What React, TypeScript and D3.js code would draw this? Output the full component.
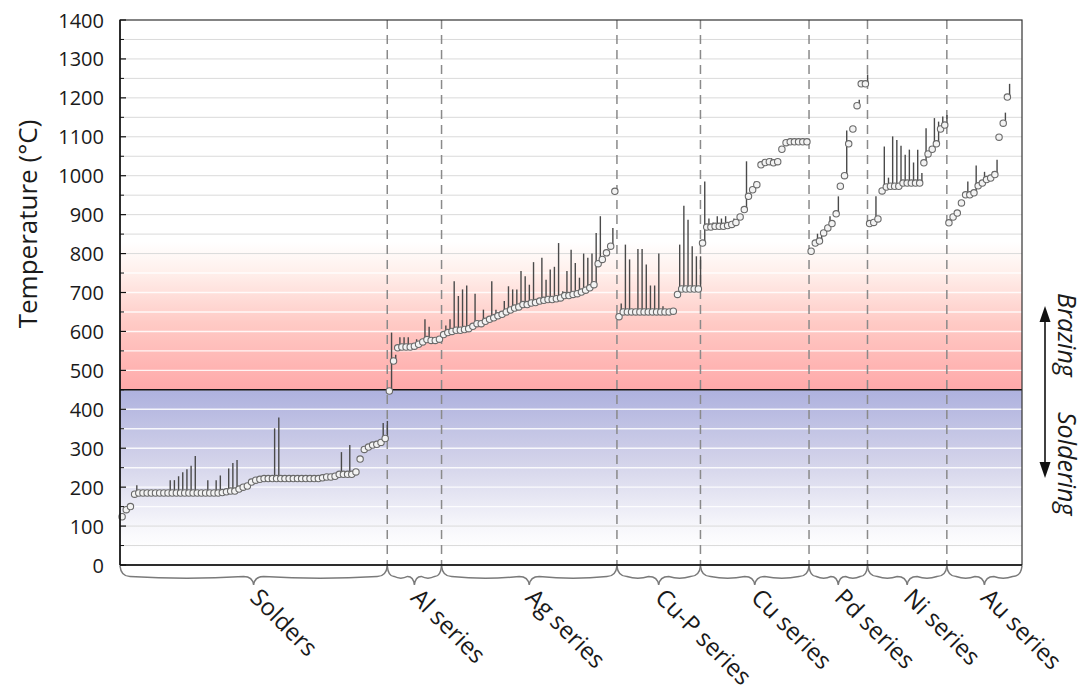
import React from "react";
import * as d3 from "d3";

// Each alloy is [solidus, liquidus] in °C; equal values mean a single melting point.
type Alloy = [number, number];

const solders: Alloy[] = [
  [124, 124], [142, 142], [150, 150], [182, 205],
  [185, 185], [185, 185], [185, 185], [185, 185], [185, 185], [185, 185], [185, 185],
  [185, 218], [185, 218], [185, 228], [185, 238], [185, 246], [185, 255], [185, 280],
  [185, 185], [185, 185], [185, 218], [185, 185], [185, 218], [185, 230], [186, 186],
  [188, 248], [190, 262], [190, 270],
  [195, 195], [200, 200], [203, 203], [213, 213], [218, 218], [220, 220],
  [222, 222], [222, 222], [222, 351], [222, 379], [222, 222], [222, 222], [222, 222],
  [222, 222], [222, 222], [222, 222], [222, 222], [222, 222], [222, 222], [222, 222],
  [224, 224], [226, 226], [226, 226], [228, 228], [233, 290], [233, 233], [233, 308],
  [233, 233], [239, 239],
  [272, 272], [297, 297], [303, 303], [308, 308], [310, 310], [315, 365], [325, 370],
];

const alSeries: Alloy[] = [
  [447, 597], [524, 540], [558, 585], [560, 585], [560, 585], [560, 560], [562, 580],
  [567, 567], [573, 631], [579, 612], [577, 577], [577, 577], [580, 580],
];

const agSeries: Alloy[] = [
  [592, 615], [597, 631], [600, 729], [603, 691], [603, 708], [605, 718], [607, 607],
  [613, 697], [620, 620], [620, 656], [626, 626], [631, 729], [635, 656], [640, 640],
  [644, 678], [650, 716], [655, 708], [660, 708], [663, 755], [669, 742], [669, 720],
  [673, 778], [674, 674], [678, 789], [680, 733], [682, 759], [682, 766], [684, 827],
  [686, 703], [692, 755], [692, 810], [695, 776], [697, 738], [701, 800], [706, 789],
  [712, 800], [720, 853], [774, 896], [785, 785], [802, 802], [819, 866], [960, 960],
];

const cuPSeries: Alloy[] = [
  [638, 672], [650, 823], [650, 785], [650, 650], [650, 812], [650, 812], [650, 772],
  [650, 718], [650, 718], [650, 800], [650, 665], [650, 650], [650, 650], [652, 652],
  [695, 823], [709, 923], [709, 887], [709, 819], [709, 793], [709, 793],
];

const cuSeries: Alloy[] = [
  [827, 985], [868, 890], [868, 880], [870, 896], [870, 890], [870, 896], [872, 880],
  [875, 890], [880, 896], [894, 894], [913, 1037], [947, 947], [964, 985], [977, 977],
  [1028, 1039], [1034, 1034], [1036, 1045], [1033, 1033], [1036, 1036], [1068, 1068],
  [1085, 1085], [1087, 1087], [1087, 1087], [1087, 1087], [1087, 1087], [1087, 1095],
];

const pdSeries: Alloy[] = [
  [806, 806], [827, 851], [832, 851], [853, 853], [866, 896], [877, 877], [902, 947],
  [973, 973], [1000, 1116], [1082, 1082], [1120, 1120], [1180, 1195], [1236, 1236],
  [1236, 1260],
];

const niSeries: Alloy[] = [
  [877, 877], [880, 947], [889, 889], [961, 1075], [971, 995], [973, 1101], [973, 1092],
  [973, 1077], [981, 1054], [981, 1067], [981, 1034], [981, 1067], [981, 1007],
  [1033, 1122], [1056, 1056], [1068, 1148], [1082, 1139], [1120, 1152], [1130, 1156],
];

const auSeries: Alloy[] = [
  [879, 879], [894, 894], [904, 904], [930, 930], [951, 985], [951, 951], [956, 1026],
  [974, 974], [981, 1010], [990, 990], [994, 1011], [1003, 1041], [1099, 1099],
  [1135, 1162], [1202, 1236],
];

const groupNames = [
  "Solders", "Al series", "Ag series", "Cu-P series",
  "Cu series", "Pd series", "Ni series", "Au series",
];
const groupAlloys = [
  solders, alSeries, agSeries, cuPSeries, cuSeries, pdSeries, niSeries, auSeries,
];

const yTickValues = [0, 100, 200, 300, 400, 500, 600, 700, 800, 900, 1000, 1100, 1200, 1300, 1400];
const gridValues = d3.range(50, 1400, 50);
const solderingLimit = 450;

// empty slots after the last group so its points sit clear of the frame
const trailingSlots = 3;

const W = 1086;
const H = 691;
const LEFT = 120;
const RIGHT = 1022;
const TOP = 20;
const BOTTOM = 565;

function bracePath(x0: number, x1: number, top: number, depth: number): string {
  const mid = (x0 + x1) / 2;
  const sh = top + depth * 0.55;
  const q = Math.min(10, (x1 - x0) / 8);
  const sag = depth * 0.18;
  return [
    `M${x0},${top}`,
    `Q${x0 + 1},${sh} ${x0 + q},${sh}`,
    `Q${(x0 + q + mid - q) / 2},${sh + sag} ${mid - q},${sh}`,
    `Q${mid - 1},${sh} ${mid},${top + depth}`,
    `Q${mid + 1},${sh} ${mid + q},${sh}`,
    `Q${(mid + q + x1 - q) / 2},${sh + sag} ${x1 - q},${sh}`,
    `Q${x1 - 1},${sh} ${x1},${top}`,
  ].join(" ");
}

export default function App() {
  const y = d3.scaleLinear().domain([0, 1400]).range([BOTTOM, TOP]);
  const nAlloys = d3.sum(groupAlloys, (g) => g.length);
  const x = d3.scaleLinear().domain([0, nAlloys + trailingSlots]).range([LEFT, RIGHT]);

  let cursor = 0;
  const groups = groupNames.map((name, i) => {
    const alloys = groupAlloys[i];
    const start = cursor;
    cursor += alloys.length;
    const end = i === groupNames.length - 1 ? nAlloys + trailingSlots : cursor;
    return { name, alloys, start, end };
  });

  const points = groups.flatMap((g) =>
    g.alloys.map((a, j) => ({ idx: g.start + j + 0.5, sol: a[0], liq: a[1] }))
  );

  const r = 3.2;
  const font = "'Open Sans', 'Noto Sans', sans-serif";

  return (
    <svg
      width={W}
      height={H}
      style={{ position: "absolute", left: 0, top: 0, background: "#fff" }}
      fontFamily={font}
    >
      <defs>
        <linearGradient id="brazeGrad" gradientUnits="userSpaceOnUse" x1={0} x2={0} y1={y(solderingLimit)} y2={y(830)}>
          <stop offset="0" stopColor="#ffa9a9" />
          <stop offset="0.45" stopColor="#ffcac5" />
          <stop offset="0.8" stopColor="#fff0ec" />
          <stop offset="1" stopColor="#ffffff" />
        </linearGradient>
        <linearGradient id="solderGrad" gradientUnits="userSpaceOnUse" x1={0} x2={0} y1={y(solderingLimit)} y2={y(40)}>
          <stop offset="0" stopColor="#aeb1de" />
          <stop offset="0.45" stopColor="#d3d3ea" />
          <stop offset="0.85" stopColor="#f6f6fb" />
          <stop offset="1" stopColor="#ffffff" />
        </linearGradient>
      </defs>

      {/* temperature bands */}
      <rect x={LEFT} y={y(830)} width={RIGHT - LEFT} height={y(solderingLimit) - y(830)} fill="url(#brazeGrad)" />
      <rect x={LEFT} y={y(solderingLimit)} width={RIGHT - LEFT} height={BOTTOM - y(solderingLimit)} fill="url(#solderGrad)" />

      {/* grid */}
      {gridValues.map((v) => {
        const inBand = v > 100 && v < 780 && v !== solderingLimit;
        return (
          <line
            key={"g" + v}
            x1={LEFT}
            x2={RIGHT}
            y1={y(v)}
            y2={y(v)}
            stroke={inBand ? "rgba(255,255,255,0.85)" : "#dadada"}
            strokeWidth={inBand ? 1.4 : 1}
          />
        );
      })}

      {/* group separators */}
      {groups.slice(0, -1).map((g) => (
        <line
          key={"sep" + g.name}
          x1={x(g.end)}
          x2={x(g.end)}
          y1={TOP}
          y2={BOTTOM}
          stroke="#8a8a8a"
          strokeWidth={1.5}
          strokeDasharray="9,6"
        />
      ))}

      {/* soldering / brazing limit */}
      <line x1={LEFT} x2={RIGHT} y1={y(solderingLimit)} y2={y(solderingLimit)} stroke="#111" strokeWidth={1.6} />

      {/* melting ranges */}
      {points.map((p, i) =>
        p.liq > p.sol ? (
          <line
            key={"l" + i}
            x1={x(p.idx) + 2.2}
            x2={x(p.idx) + 2.2}
            y1={y(p.sol)}
            y2={y(p.liq)}
            stroke="#4a4a4a"
            strokeWidth={1.4}
          />
        ) : null
      )}
      {points.map((p, i) => (
        <circle key={"c" + i} cx={x(p.idx)} cy={y(p.sol)} r={r} fill="#f3f3f3" stroke="#6a6a6a" strokeWidth={1.1} />
      ))}

      {/* frame */}
      <rect x={LEFT} y={TOP} width={RIGHT - LEFT} height={BOTTOM - TOP} fill="none" stroke="#333" strokeWidth={1.2} />
      <line x1={LEFT} x2={LEFT} y1={TOP} y2={BOTTOM} stroke="#111" strokeWidth={1.5} />
      <line x1={LEFT} x2={RIGHT} y1={BOTTOM} y2={BOTTOM} stroke="#111" strokeWidth={1.5} />

      {/* y ticks */}
      {yTickValues.map((v) => (
        <g key={"t" + v}>
          <line x1={LEFT} x2={LEFT + 6} y1={y(v)} y2={y(v)} stroke="#111" strokeWidth={1.2} />
          <text x={104} y={y(v)} textAnchor="end" dominantBaseline="central" fontSize={20} fill="#1a1a1a">
            {v}
          </text>
        </g>
      ))}
      {gridValues
        .filter((v) => v % 100 !== 0)
        .map((v) => (
          <line key={"m" + v} x1={LEFT} x2={LEFT + 4} y1={y(v)} y2={y(v)} stroke="#111" strokeWidth={1} />
        ))}

      <text
        transform={`translate(37,224) rotate(-90)`}
        textAnchor="middle"
        fontSize={26}
        fill="#1a1a1a"
      >
        Temperature (°C)
      </text>

      {/* braces and group labels */}
      {groups.map((g) => {
        const x0 = x(g.start);
        const x1 = x(g.end);
        const mid = (x0 + x1) / 2;
        return (
          <g key={"b" + g.name}>
            <path d={bracePath(x0, x1, BOTTOM + 1, 19)} fill="none" stroke="#7a7a7a" strokeWidth={1.5} />
            <text
              transform={`translate(${mid - 5},${599}) rotate(45)`}
              fontSize={24}
              fill="#1a1a1a"
            >
              {g.name}
            </text>
          </g>
        );
      })}

      {/* brazing / soldering annotation */}
      <line x1={1045} x2={1045} y1={318} y2={466} stroke="#111" strokeWidth={1.6} />
      <path d="M1045,306 L1039.5,322 L1050.5,322 Z" fill="#111" />
      <path d="M1045,478 L1039.5,462 L1050.5,462 Z" fill="#111" />
      <text transform="translate(1058,293) rotate(90)" fontSize={25} fontStyle="italic" fill="#1a1a1a">
        Brazing
      </text>
      <text transform="translate(1058,412) rotate(90)" fontSize={25} fontStyle="italic" fill="#1a1a1a">
        Soldering
      </text>
    </svg>
  );
}
